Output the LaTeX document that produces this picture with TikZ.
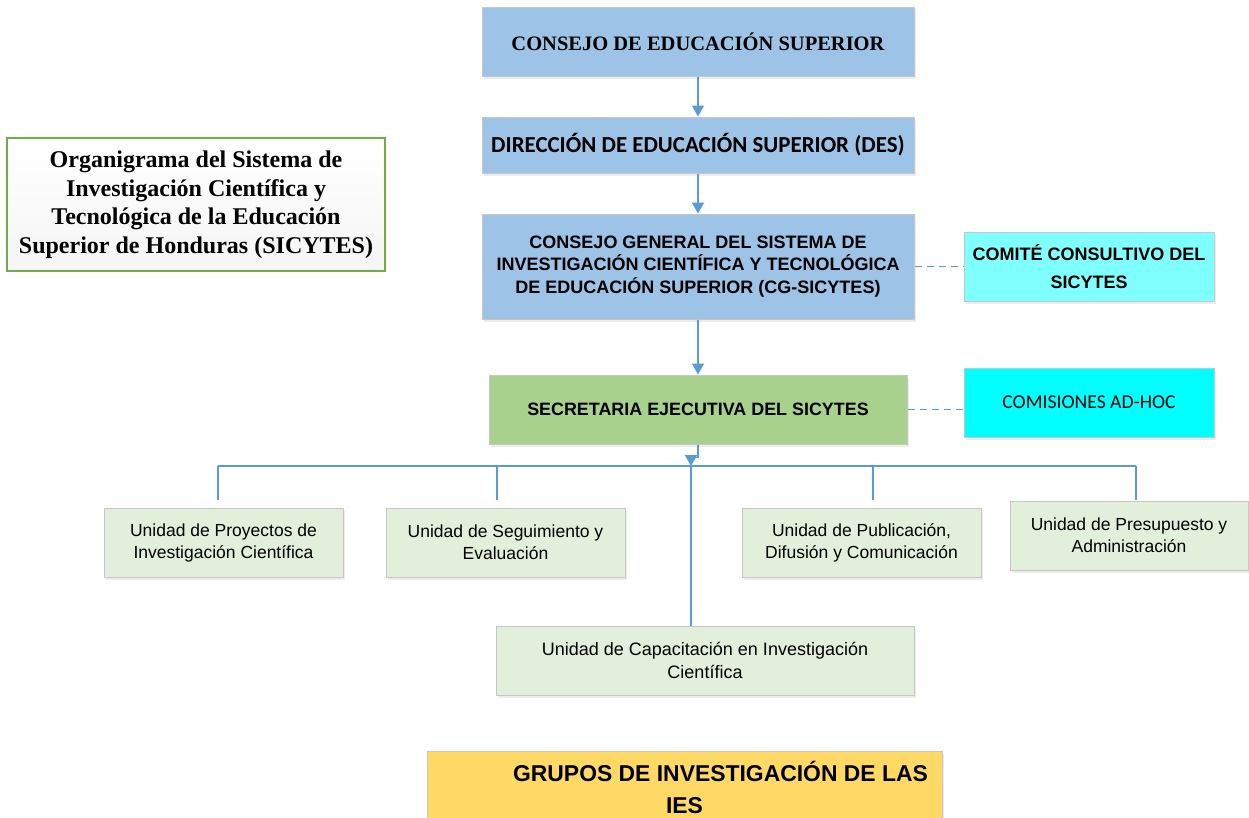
\documentclass[tikz,border=0pt]{standalone}
\usepackage{fontspec}
\setmainfont{Liberation Sans}
\newfontfamily\calibrifont{Carlito}
\newfontfamily\cambriafont{Liberation Serif}
\usetikzlibrary{arrows.meta, shadows}
\definecolor{azul}{HTML}{9DC3E6}
\definecolor{celeste}{HTML}{80FFFF}
\definecolor{cian}{HTML}{00FFFF}
\definecolor{verde}{HTML}{A9D18E}
\definecolor{verdeclaro}{HTML}{E2EFDA}
\definecolor{borde}{HTML}{70AD47}
\definecolor{amarillo}{HTML}{FFD966}
\definecolor{linea}{HTML}{5B9BD5}
\tikzstyle{box} = [rectangle, inner sep=0pt, align=center, draw=black!22, line width=1pt, drop shadow={opacity=0.15, shadow xshift=2pt, shadow yshift=-3pt}]
\tikzstyle{bluebox} = [box, fill=azul, minimum width=432pt]
\tikzstyle{sidebox} = [box, minimum width=250pt, minimum height=69pt]
\tikzstyle{unit} = [box, fill=verdeclaro, minimum width=239pt, minimum height=69pt, font=\fontsize{17.5}{22}\selectfont]
\tikzstyle{line} = [draw=linea, line width=1.8pt]
\tikzstyle{arrow} = [line, -{Triangle[width=12pt,length=11pt]}]
\tikzstyle{dashlink} = [line, dash pattern=on 7pt off 5pt]

\begin{document}
\begin{tikzpicture}[x=1pt, y=-1pt]
\useasboundingbox (0,0) rectangle (1249,817);

\node (A) [bluebox, minimum height=69pt, font=\cambriafont\bfseries\fontsize{20.5}{24}\selectfont] at (698,41.5) {CONSEJO DE EDUCACIÓN SUPERIOR};
\node (B) [bluebox, minimum height=56pt, font=\calibrifont\bfseries\fontsize{22.9}{27}\selectfont] at (698,145) {DIRECCIÓN DE EDUCACIÓN SUPERIOR (DES)};
\node (C) [bluebox, minimum height=105pt, font=\bfseries\fontsize{18}{22.5}\selectfont] at (698,266.5) {CONSEJO GENERAL DEL SISTEMA DE\\INVESTIGACIÓN CIENTÍFICA Y TECNOLÓGICA\\DE EDUCACIÓN SUPERIOR (CG-SICYTES)};
\node (D) [sidebox, fill=celeste, font=\bfseries\fontsize{18}{28}\selectfont] at (1089,266.5) {COMITÉ CONSULTIVO DEL\\SICYTES};
\node (E) [box, fill=verde, minimum width=418pt, minimum height=69pt, font=\bfseries\fontsize{17.9}{22}\selectfont] at (698,409.5) {SECRETARIA EJECUTIVA DEL SICYTES};
\node (F) [sidebox, fill=cian, font=\calibrifont\fontsize{19.7}{24}\selectfont] at (1089,402.5) {COMISIONES AD-HOC};

\node (G) [rectangle, inner sep=0pt, align=center, draw=borde, line width=1.2pt, top color=white, bottom color=black!4, minimum width=378pt, minimum height=133pt, font=\cambriafont\bfseries\fontsize{24}{28.5}\selectfont] at (196,204.5) {Organigrama del Sistema de\\Investigación Científica y\\Tecnológica de la Educación\\Superior de Honduras (SICYTES)};

\node (H1) [unit] at (223.5,542.5) {Unidad de Proyectos de\\Investigación Científica};
\node (H2) [unit] at (505.5,542.5) {Unidad de Seguimiento y\\Evaluación};
\node (H3) [unit] at (861.5,542.5) {Unidad de Publicación,\\Difusión y Comunicación};
\node (H4) [unit, minimum width=238pt] at (1129,535.5) {Unidad de Presupuesto y\\Administración};
\node (I) [unit, minimum width=418pt, font=\fontsize{18}{22.5}\selectfont] at (705,660.5) {Unidad de Capacitación en Investigación\\Científica};

\node (J) [box, fill=amarillo, minimum width=515pt, minimum height=72pt, font=\bfseries\fontsize{22.9}{32}\selectfont] at (684.5,787) {\hspace*{72pt}GRUPOS DE INVESTIGACIÓN DE LAS\\IES};

% main line
\draw[arrow] (A) -- (B);
\draw[arrow] (B) -- (C);
\draw[arrow] (C) -- (E);

% side boxes
\draw[dashlink] (C.east) -- (D.west);
\draw[dashlink] (E.east) -- (E.east -| F.west);

% units
\coordinate (K) at (691,466);
\coordinate (L) at (218,466);
\coordinate (R) at (1136,466);
\draw[arrow] (E.south) -- ++(0,13) -| (K);
\draw[line] (L) -- (R);
\foreach \x/\n in {218/H1, 497/H2, 873/H3}
  \draw[line, shorten >=8pt] (\x,466) -- (\x,0 |- \n.north);
\draw[line, shorten >=1pt] (R) -- (R |- H4.north);
\draw[line] (K) -- (K |- I.north);

\end{tikzpicture}
\end{document}
